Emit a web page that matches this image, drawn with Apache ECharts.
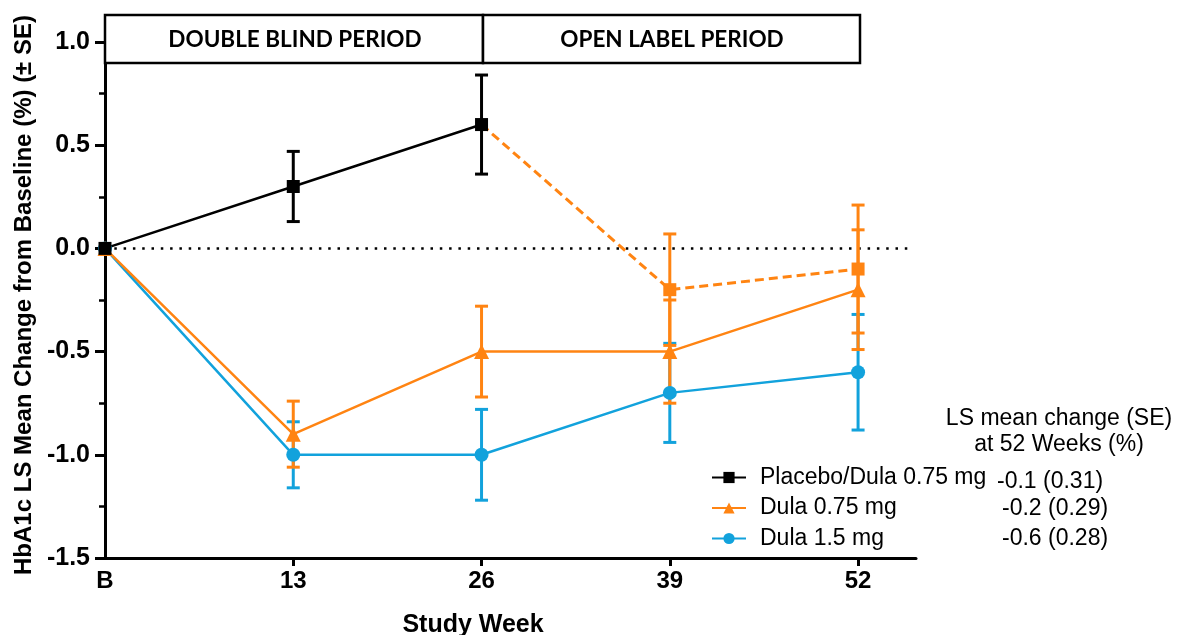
<!DOCTYPE html>
<html>
<head>
<meta charset="utf-8">
<script src="https://cdn.jsdelivr.net/npm/echarts@6/dist/echarts.min.js"></script>
<style>
html,body{margin:0;padding:0;background:#fff;}
#chart{width:1177px;height:635px;}
</style>
</head>
<body>
<div id="chart"></div>
<script>
// ---- data ----
const weeks = [0, 13, 26, 39, 52];
const weekLabels = ['B', '13', '26', '39', '52'];
const tickWeeks = [13, 26, 39, 52];

// Placebo/Dula 0.75 mg: placebo in double-blind (B..26), then switched to Dula 0.75 mg (26..52)
const placeboWeeks = [0, 13, 26];
const placeboMean = [0, 0.3, 0.6];
const placeboSE = [0, 0.17, 0.24];
const switchWeeks = [26, 39, 52];
const switchMean = [0.6, -0.2, -0.1];
const switchSE = [0, 0.27, 0.31];

const dula075Mean = [0, -0.9, -0.5, -0.5, -0.2];
const dula075SE = [0, 0.16, 0.22, 0.25, 0.29];

const dula15Mean = [0, -1.0, -1.0, -0.7, -0.6];
const dula15SE = [0, 0.16, 0.22, 0.24, 0.28];

// zero reference line: [start week, end week, value]
const zeroLine = [[0, 55.5, 0]];

const seriesNames = ['Placebo/Dula 0.75 mg', 'Dula 0.75 mg', 'Dula 1.5 mg'];
const summaryTitle = ['LS mean change (SE)', 'at 52 Weeks (%)'];
const summaryValues = ['-0.1 (0.31)', '-0.2 (0.29)', '-0.6 (0.28)'];
const periodLabels = ['DOUBLE BLIND PERIOD', 'OPEN LABEL PERIOD'];

// ---- styles ----
const BLACK = '#000000';
const ORANGE = '#FF8412';
const BLUE = '#12A2DC';
const FONT = '"Liberation Sans", Arial, sans-serif';
const HFONT = 'Lato, "Open Sans", sans-serif';

function pairs(xs, ys) { return xs.map((x, i) => [x, ys[i]]); }
function errData(xs, m, se) {
  const out = [];
  xs.forEach((x, i) => { if (se[i] > 0) out.push([x, m[i] - se[i], m[i] + se[i]]); });
  return out;
}
function errSeries(data, color) {
  return {
    type: 'custom',
    data: data,
    z: 2,
    silent: true,
    clip: false,
    encode: { x: 0, y: [1, 2] },
    renderItem: function (params, api) {
      const x = api.value(0), lo = api.value(1), hi = api.value(2);
      const a = api.coord([x, lo]), b = api.coord([x, hi]);
      const hw = 6.5;
      const st = { stroke: color, lineWidth: 3 };
      return {
        type: 'group',
        children: [
          { type: 'line', shape: { x1: a[0], y1: a[1], x2: b[0], y2: b[1] }, style: st },
          { type: 'line', shape: { x1: a[0] - hw, y1: a[1], x2: a[0] + hw, y2: a[1] }, style: st },
          { type: 'line', shape: { x1: b[0] - hw, y1: b[1], x2: b[0] + hw, y2: b[1] }, style: st }
        ]
      };
    }
  };
}

const chart = echarts.init(document.getElementById('chart'), null, { renderer: 'canvas' });

const option = {
  animation: false,
  backgroundColor: '#ffffff',
  grid: { left: 105, right: 261, top: 42, bottom: 77, containLabel: false, outerBoundsMode: 'none' },
  xAxis: {
    type: 'value',
    min: 0,
    max: 56,
    name: 'Study Week',
    nameLocation: 'middle',
    nameGap: 55,
    nameTextStyle: { fontFamily: FONT, fontWeight: 'bold', fontSize: 25, color: '#000', padding: [0, 75, 0, 0] },
    axisLine: { show: true, onZero: false, lineStyle: { color: '#000', width: 3 } },
    axisTick: { show: true, customValues: tickWeeks, length: 8, lineStyle: { color: '#000', width: 3 } },
    axisLabel: {
      customValues: weeks,
      margin: 11,
      fontFamily: FONT, fontWeight: 'bold', fontSize: 24, color: '#000',
      formatter: function (v) { const i = weeks.indexOf(v); return i >= 0 ? weekLabels[i] : ''; }
    },
    splitLine: { show: false }
  },
  yAxis: {
    type: 'value',
    min: -1.5,
    max: 1.0,
    interval: 0.5,
    name: 'HbA1c LS Mean Change from Baseline (%) (± SE)',
    nameLocation: 'middle',
    nameRotate: 90,
    nameGap: 60,
    nameTextStyle: { fontFamily: FONT, fontWeight: 'bold', fontSize: 24, color: '#000', padding: [0, 0, 0, 10] },
    axisLine: { show: true, onZero: false, lineStyle: { color: '#000', width: 3 } },
    axisTick: { show: true, length: 10, lineStyle: { color: '#000', width: 3 } },
    minorTick: { show: true, splitNumber: 2, length: 6, lineStyle: { color: '#000', width: 2.5 } },
    axisLabel: {
      margin: 15,
      fontFamily: FONT, fontWeight: 'bold', fontSize: 25, color: '#000',
      formatter: function (v) { return v.toFixed(1); }
    },
    splitLine: { show: false }
  },
  legend: {
    orient: 'vertical',
    left: 706,
    top: 461,
    itemWidth: 34,
    itemHeight: 14,
    itemGap: 7.5,
    data: seriesNames,
    textStyle: { fontFamily: FONT, fontSize: 23, color: '#000', padding: [0, 0, 0, 9] }
  },
  graphic: [
    { type: 'rect', z: 100, shape: { x: 105, y: 15, width: 378, height: 48 }, style: { fill: '#fff', stroke: '#000', lineWidth: 2.5 } },
    { type: 'rect', z: 100, shape: { x: 483, y: 15, width: 377, height: 48 }, style: { fill: '#fff', stroke: '#000', lineWidth: 2.5 } },
    { type: 'text', z: 101, x: 295, y: 40, style: { text: periodLabels[0], fontFamily: HFONT, fontWeight: 'bold', fontSize: 22.5, fill: '#000', align: 'center', verticalAlign: 'middle' } },
    { type: 'text', z: 101, x: 672, y: 40, style: { text: periodLabels[1], fontFamily: HFONT, fontWeight: 'bold', fontSize: 22.5, fill: '#000', align: 'center', verticalAlign: 'middle' } },
    { type: 'text', x: 1059, y: 419, style: { text: summaryTitle[0], fontFamily: FONT, fontSize: 23, fill: '#000', align: 'center', verticalAlign: 'middle' } },
    { type: 'text', x: 1059, y: 445, style: { text: summaryTitle[1], fontFamily: FONT, fontSize: 23, fill: '#000', align: 'center', verticalAlign: 'middle' } },
    { type: 'text', x: 997, y: 482, style: { text: summaryValues[0], fontFamily: FONT, fontSize: 23, fill: '#000', align: 'left', verticalAlign: 'middle' } },
    { type: 'text', x: 1002, y: 509, style: { text: summaryValues[1], fontFamily: FONT, fontSize: 23, fill: '#000', align: 'left', verticalAlign: 'middle' } },
    { type: 'text', x: 1002, y: 539, style: { text: summaryValues[2], fontFamily: FONT, fontSize: 23, fill: '#000', align: 'left', verticalAlign: 'middle' } }
  ],
  series: [
    {
      type: 'custom',
      data: zeroLine,
      z: 1,
      silent: true,
      clip: false,
      encode: { x: [0, 1], y: 2 },
      renderItem: function (params, api) {
        const a = api.coord([api.value(0), api.value(2)]);
        const b = api.coord([api.value(1), api.value(2)]);
        return {
          type: 'line',
          shape: { x1: a[0], y1: a[1], x2: b[0], y2: b[1] },
          style: { stroke: '#000', lineWidth: 2.5, lineDash: [2.5, 6.8], lineCap: 'butt' }
        };
      }
    },
    errSeries(errData(weeks, dula15Mean, dula15SE), BLUE),
    errSeries(errData(weeks, dula075Mean, dula075SE), ORANGE),
    errSeries(errData(switchWeeks, switchMean, switchSE), ORANGE),
    errSeries(errData(placeboWeeks, placeboMean, placeboSE), BLACK),
    {
      name: seriesNames[2],
      type: 'line',
      z: 3,
      data: pairs(weeks, dula15Mean),
      symbol: 'circle',
      symbolSize: 14,
      itemStyle: { color: BLUE },
      lineStyle: { color: BLUE, width: 2.5 }
    },
    {
      name: seriesNames[1],
      type: 'line',
      z: 3,
      data: pairs(weeks, dula075Mean),
      symbol: 'triangle',
      symbolSize: 15,
      itemStyle: { color: ORANGE },
      lineStyle: { color: ORANGE, width: 2.5 }
    },
    {
      name: 'switch',
      type: 'line',
      z: 3,
      data: switchWeeks.map((x, i) => ({ value: [x, switchMean[i]], symbol: i === 0 ? 'none' : 'rect' })),
      symbolSize: 13,
      itemStyle: { color: ORANGE },
      lineStyle: { color: ORANGE, width: 3, type: [9, 5] }
    },
    {
      name: seriesNames[0],
      type: 'line',
      z: 3,
      data: pairs(placeboWeeks, placeboMean),
      symbol: 'rect',
      symbolSize: 13,
      itemStyle: { color: BLACK },
      lineStyle: { color: BLACK, width: 2.5 }
    }
  ]
};
chart.setOption(option);
</script>
</body>
</html>
